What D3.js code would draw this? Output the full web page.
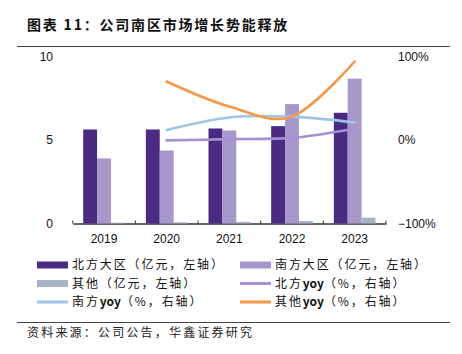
<!DOCTYPE html>
<html>
<head>
<meta charset="utf-8">
<script src="https://cdn.jsdelivr.net/npm/d3@7"></script>
<style>
  body { margin: 0; background: #fff; }
  svg { display: block; font-family: "Liberation Sans", Arial, sans-serif; }
  .cn { font-family: "Noto Sans CJK SC", sans-serif; }
</style>
</head>
<body>
<svg id="chart"></svg>
<script>
// data
var years = ['2019', '2020', '2021', '2022', '2023'];
var northRev = [5.63, 5.63, 5.69, 5.83, 6.63];   // 亿元
var southRev = [3.90, 4.37, 5.57, 7.15, 8.67];
var otherRev = [0.05, 0.07, 0.10, 0.15, 0.35];
var yoyYears = ['2020', '2021', '2022', '2023'];
var northYoy = [-0.5, 1, 2.5, 13.5];   // %
var southYoy = [12, 27, 28, 21];
var otherYoy = [70, 40, 28, 94];
var leftTicks = [0, 5, 10];
var rightTicks = [-100, 0, 100];

var colors = {
    north: '#4a2a83', south: '#a797cd', other: '#a9b4c8',
    northYoy: '#a590d2', southYoy: '#9fc5e8', otherYoy: '#f79646'
};

var W = 462, H = 354;
var svg = d3.select('#chart').attr('width', W).attr('height', H);

// title + rules
svg.append('text').attr('class', 'cn')
    .attr('x', 27).attr('y', 30)
    .style('font-size', '14px').style('font-weight', 'bold')
    .style('letter-spacing', '1.8px').attr('fill', '#111')
    .text('图表 11：公司南区市场增长势能释放');
svg.append('line').attr('x1', 17).attr('x2', 450).attr('y1', 46.5).attr('y2', 46.5)
    .attr('stroke', '#444').attr('stroke-width', 1);
svg.append('line').attr('x1', 17).attr('x2', 450).attr('y1', 322.5).attr('y2', 322.5)
    .attr('stroke', '#444').attr('stroke-width', 1);
svg.append('text').attr('class', 'cn')
    .attr('x', 27).attr('y', 336.5)
    .style('font-size', '12px').style('letter-spacing', '2.2px').attr('fill', '#222')
    .text('资料来源：公司公告，华鑫证券研究');

// plot area
var x0 = 72.7, x1 = 386;
var yTop = 56.5, yBot = 223.5;

var x = d3.scaleBand().domain(years).range([x0, x1]);
var yL = d3.scaleLinear().domain([0, 10]).range([yBot, yTop]);
var yR = d3.scaleLinear().domain([-100, 100]).range([yBot, yTop]);

var xAxis = svg.append('g')
    .attr('transform', 'translate(0,' + yBot + ')')
    .call(d3.axisBottom(x).tickSize(0).tickPadding(11));
xAxis.select('.domain').attr('stroke', '#333').attr('stroke-width', 1.3);
xAxis.selectAll('text').style('font-size', '12px').attr('fill', '#111');
// category boundary ticks
svg.append('g').selectAll('line')
    .data(years.concat(['end']))
    .enter().append('line')
    .attr('x1', (d, i) => x0 + i * x.step()).attr('x2', (d, i) => x0 + i * x.step())
    .attr('y1', yBot - 3).attr('y2', yBot)
    .attr('stroke', '#333').attr('stroke-width', 1);

var leftAxis = svg.append('g').attr('transform', 'translate(' + 56 + ',0)')
    .call(d3.axisLeft(yL).tickValues(leftTicks).tickSize(0).tickPadding(3));
leftAxis.select('.domain').remove();
leftAxis.selectAll('text').style('font-size', '12px').attr('fill', '#111');

var rightAxis = svg.append('g').attr('transform', 'translate(' + 395 + ',0)')
    .call(d3.axisRight(yR).tickValues(rightTicks).tickSize(0).tickPadding(3)
        .tickFormat(d => (d < 0 ? '\u2212' + Math.abs(d) : d) + '%'));
rightAxis.select('.domain').remove();
rightAxis.selectAll('text').style('font-size', '12px').attr('fill', '#111');

// bars
var barW = 13.9;
var series = [
    { key: 'north', vals: northRev },
    { key: 'south', vals: southRev },
    { key: 'other', vals: otherRev }
];
series.forEach(function (s, si) {
    svg.append('g').selectAll('rect')
        .data(s.vals)
        .enter().append('rect')
        .attr('x', (d, i) => x(years[i]) + x.bandwidth() / 2 - 1.5 * barW + si * barW)
        .attr('width', barW)
        .attr('y', d => yL(d))
        .attr('height', d => yBot - yL(d))
        .attr('fill', colors[s.key]);
});

// yoy lines
var line = d3.line()
    .x((d, i) => x(yoyYears[i]) + x.bandwidth() / 2)
    .y(d => yR(d))
    .curve(d3.curveCardinal.tension(0));
[['southYoy', southYoy], ['northYoy', northYoy], ['otherYoy', otherYoy]].forEach(function (l) {
    svg.append('path').datum(l[1])
        .attr('d', line)
        .attr('fill', 'none')
        .attr('stroke', colors[l[0]])
        .attr('stroke-width', 2.6)
        .attr('stroke-linecap', 'round');
});

// legend
var legend = [
    { name: '北方大区', unit: '（亿元，左轴）', color: colors.north, bar: true },
    { name: '南方大区', unit: '（亿元，左轴）', color: colors.south, bar: true },
    { name: '其他', unit: '（亿元，左轴）', color: colors.other, bar: true },
    { name: '北方', yoy: true, unit: '（%，右轴）', color: colors.northYoy, bar: false },
    { name: '南方', yoy: true, unit: '（%，右轴）', color: colors.southYoy, bar: false },
    { name: '其他', yoy: true, unit: '（%，右轴）', color: colors.otherYoy, bar: false }
];
var lg = svg.append('g').selectAll('g')
    .data(legend)
    .enter().append('g')
    .attr('transform', (d, i) => 'translate(' + (i % 2 ? 240 : 37) + ',' + (265 + Math.floor(i / 2) * 18.5) + ')');
lg.append('rect')
    .attr('x', 0).attr('width', 31)
    .attr('y', d => d.bar ? -3.5 : -1.5)
    .attr('height', d => d.bar ? 7 : 3)
    .attr('fill', d => d.color);
var lt = lg.append('text').attr('class', 'cn')
    .attr('x', 35).attr('y', 0).attr('dy', '0.36em')
    .style('font-size', '12px').attr('fill', '#111');
lt.append('tspan').style('letter-spacing', '1.9px').text(d => d.name);
lt.filter(d => d.yoy).append('tspan')
    .style('font-weight', 'bold').style('letter-spacing', '0px')
    .text('yoy');
lt.append('tspan').style('letter-spacing', '1.9px').text(d => d.unit);
</script>
</body>
</html>
